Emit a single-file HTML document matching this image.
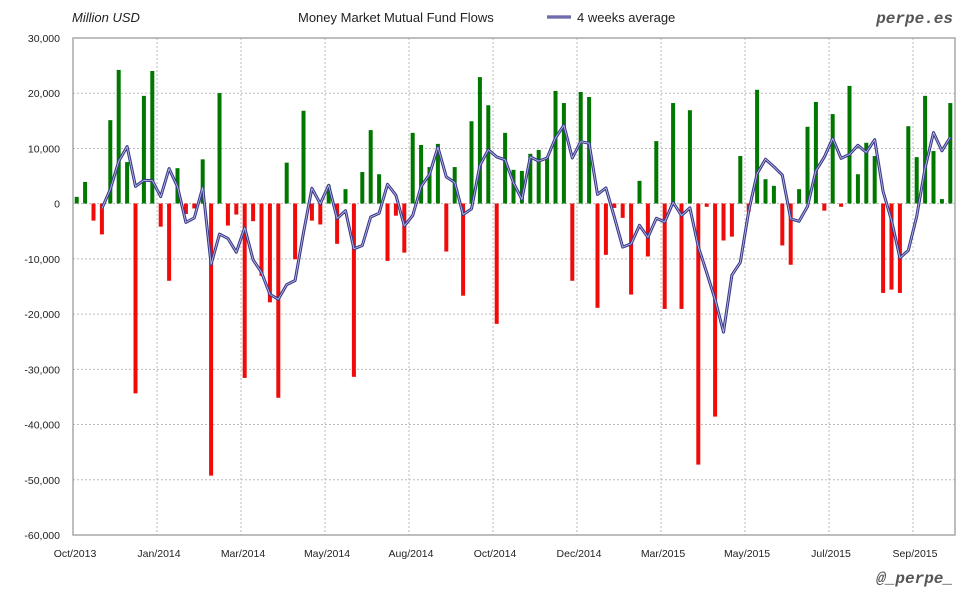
<!DOCTYPE html>
<html><head><meta charset="utf-8"><style>
body{margin:0;background:#fff;}
svg{display:block;font-family:"Liberation Sans",sans-serif;}
</style></head><body>
<svg id="c" width="980" height="600" xmlns="http://www.w3.org/2000/svg">
<rect width="980" height="600" fill="#fff"/>
<g id="grid"></g>
<g id="bars"></g>
<g id="line"></g>
<rect x="73" y="38" width="882" height="497" fill="none" stroke="#a8a8a8" stroke-width="1.5"/>
<g id="labels" font-size="10.5" fill="#222"></g>
<text x="72" y="22" font-size="13" font-style="italic" fill="#222">Million USD</text>
<text x="298" y="22" font-size="13" fill="#222">Money Market Mutual Fund Flows</text>
<line x1="547" y1="17" x2="571" y2="17" stroke="#3a3a8a" stroke-width="3"/>
<line x1="547" y1="17" x2="571" y2="17" stroke="#c0c0e8" stroke-width="0.8"/>
<text x="577" y="22" font-size="13" fill="#222">4 weeks average</text>
<text x="953" y="23" font-size="16" font-weight="bold" font-style="italic" fill="#555" text-anchor="end" font-family="Liberation Mono,monospace">perpe.es</text>
<text x="953" y="583" font-size="16" font-weight="bold" font-style="italic" fill="#555" text-anchor="end" font-family="Liberation Mono,monospace">@_perpe_</text>
</svg>
<script>
var v=[1.2,3.9,-3.1,-5.6,15.1,24.2,7.5,-34.4,19.5,24,-4.2,-14,6.4,-1.9,-0.9,8,-49.3,20,-4,-2,-31.6,-3.2,-13.1,-17.9,-35.2,7.4,-10.1,16.8,-3.1,-3.8,3.3,-7.3,2.6,-31.4,5.7,13.3,5.3,-10.4,-2.2,-8.9,12.8,10.6,6.6,10.8,-8.7,6.6,-16.7,14.9,22.9,17.8,-21.8,12.8,6.1,5.9,9,9.7,8.4,20.4,18.2,-14,20.2,19.3,-18.9,-9.3,-0.8,-2.6,-16.5,4.1,-9.6,11.3,-19.1,18.2,-19.1,16.9,-47.3,-0.6,-38.6,-6.7,-6,8.6,-1.5,20.6,4.4,3.2,-7.6,-11.1,2.6,13.9,18.4,-1.3,16.2,-0.6,21.3,5.3,11,8.6,-16.2,-15.6,-16.2,14,8.4,19.5,9.5,0.8,18.2];
var NS="http://www.w3.org/2000/svg";
function el(t,a,p){var e=document.createElementNS(NS,t);for(var k in a)e.setAttribute(k,a[k]);document.getElementById(p).appendChild(e);return e;}
function Y(val){return 203.5-val*5.52;}
for(var j=1;j<9;j++){var y=38+j*55.22;el("line",{x1:73,x2:955,y1:y,y2:y,stroke:"#bbb","stroke-dasharray":"2,2"},"grid");}
var xs=[73,157,241,325,409,493,577,661,745,829,913];
for(var j=1;j<xs.length;j++)el("line",{x1:xs[j],x2:xs[j],y1:38,y2:535,stroke:"#bbb","stroke-dasharray":"2,2"},"grid");
for(var i=0;i<v.length;i++){var x=76.7+8.4*i,val=v[i];var y0=Y(0),y1=Y(val);
el("rect",{x:x-2,y:Math.min(y0,y1),width:4,height:Math.abs(y1-y0),fill:val>=0?"#007800":"#f00a0a"},"bars");}
var pts=[];for(var i=3;i<v.length;i++){var s=(v[i]+v[i-1]+v[i-2]+v[i-3])/4;pts.push((76.7+8.4*i).toFixed(1)+","+Y(s).toFixed(1));}
el("polyline",{points:pts.join(" "),fill:"none",stroke:"#3a3a8a","stroke-width":3,"stroke-linejoin":"round"},"line");
el("polyline",{points:pts.join(" "),fill:"none",stroke:"#c0c0e8","stroke-width":0.8,"stroke-linejoin":"round"},"line");
var yl=["30,000","20,000","10,000","0","-10,000","-20,000","-30,000","-40,000","-50,000","-60,000"];
for(var j=0;j<10;j++){var t=el("text",{x:60,y:38+j*55.22+4,"text-anchor":"end"},"labels");t.textContent=yl[j];}
var xl=["Oct/2013","Jan/2014","Mar/2014","May/2014","Aug/2014","Oct/2014","Dec/2014","Mar/2015","May/2015","Jul/2015","Sep/2015"];
for(var j=0;j<xl.length;j++){var t=el("text",{x:xs[j]+2,y:557,"text-anchor":"middle"},"labels");t.textContent=xl[j];}
</script>
</body></html>
